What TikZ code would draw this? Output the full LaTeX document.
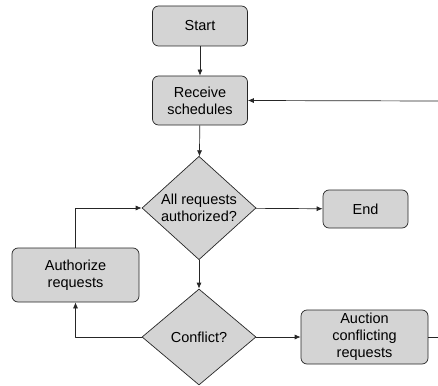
\documentclass[tikz,border=0pt]{standalone}
\usepackage{fontspec}
\setmainfont{Liberation Sans}
\usetikzlibrary{shapes.geometric,arrows.meta}
\begin{document}
\begin{tikzpicture}[x=1pt,y=-1pt,line join=round,>={Latex[length=6pt,width=5pt]},
  font=\fontsize{14.5}{17}\selectfont,
  box/.style={draw=black!85,fill=black!17,rounded corners=6pt,line width=0.7pt,align=center,inner sep=0pt},
  decision/.style={diamond,draw=black!85,fill=black!17,line width=0.7pt,align=center,inner sep=0pt,minimum width=114pt,minimum height=96pt},
  flow/.style={->,black!85,line width=0.7pt}]
\useasboundingbox (0,0) rectangle (438,385);
\clip (0,0) rectangle (438,385);
% boxes
\node[box,minimum width=95pt,minimum height=40pt] (start) at (200,26) {Start};
\node[box,minimum width=95pt,minimum height=49pt] (receive) at (200,100.5) {Receive\\schedules};
\node[decision] (allauth) at (199,208) {All requests\\authorized?};
\node[box,minimum width=85pt,minimum height=38pt] (endnode) at (365.5,209) {End};
\node[box,minimum width=127pt,minimum height=54pt] (authorize) at (75.5,275) {Authorize\\requests};
\node[decision] (conflict) at (199,337) {Conflict?};
\node[box,minimum width=127pt,minimum height=54pt] (auction) at (364.5,337) {Auction\\conflicting\\requests};
\coordinate (backin) at (438,101);
\coordinate (backout) at (438,337);
% connectors
\draw[flow] (start) -- (receive);
\draw[flow] (receive) -- (allauth);
\draw[flow] (backin) -- (receive.east);
\draw[flow] (allauth) -- (endnode);
\draw[flow] (allauth) -- (conflict);
\draw[flow] (conflict) -- (auction);
\draw[black!85,line width=0.7pt] (auction.east) -- (backout);
\draw[flow] (authorize.north) |- (allauth.west);
\draw[flow] (conflict.west) -| (authorize.south);
\end{tikzpicture}
\end{document}
